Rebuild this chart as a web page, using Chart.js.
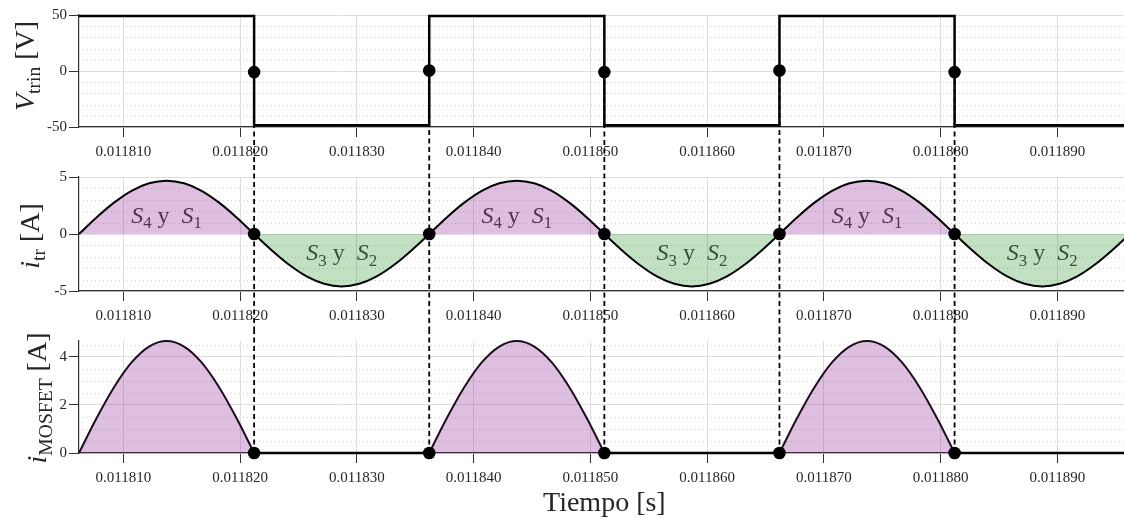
<!DOCTYPE html>
<html lang="es">
<head>
<meta charset="utf-8">
<title>Conmutación del inversor en puente completo</title>
<script src="https://cdn.jsdelivr.net/npm/chart.js@4.4.1/dist/chart.umd.min.js"></script>
<style>
  html, body { margin: 0; padding: 0; background: #fff; }
  body { width: 1124px; height: 518px; overflow: hidden; position: relative; }
  canvas { position: absolute; left: 0; }
</style>
</head>
<body>
<canvas id="panelV" width="1136" height="165" style="top:0px"></canvas>
<canvas id="panelI" width="1136" height="164" style="top:165px"></canvas>
<canvas id="panelM" width="1136" height="189" style="top:329px"></canvas>
<script>
// ---- Datos ----------------------------------------------------------------
// Instantes de muestreo (s), cada 1.5 µs
const tiempo = [
  0.0118062, 0.0118077, 0.0118092, 0.0118107, 0.0118122, 0.0118137, 0.0118152, 0.0118167, 0.0118182, 0.0118197,
  0.0118212, 0.0118227, 0.0118242, 0.0118257, 0.0118272, 0.0118287, 0.0118302, 0.0118317, 0.0118332, 0.0118347,
  0.0118362, 0.0118377, 0.0118392, 0.0118407, 0.0118422, 0.0118437, 0.0118452, 0.0118467, 0.0118482, 0.0118497,
  0.0118512, 0.0118527, 0.0118542, 0.0118557, 0.0118572, 0.0118587, 0.0118602, 0.0118617, 0.0118632, 0.0118647,
  0.0118662, 0.0118677, 0.0118692, 0.0118707, 0.0118722, 0.0118737, 0.0118752, 0.0118767, 0.0118782, 0.0118797,
  0.0118812, 0.0118827, 0.0118842, 0.0118857, 0.0118872, 0.0118887, 0.0118902, 0.0118917, 0.0118932, 0.0118947,
  0.0118962
];

// Corriente por el transformador (A)
const iTr = [
  0, 1.45, 2.75, 3.79, 4.45, 4.68, 4.45, 3.79, 2.75, 1.45,
  0, -1.42, -2.70, -3.72, -4.37, -4.60, -4.37, -3.72, -2.70, -1.42,
  0, 1.45, 2.75, 3.79, 4.45, 4.68, 4.45, 3.79, 2.75, 1.45,
  0, -1.42, -2.70, -3.72, -4.37, -4.60, -4.37, -3.72, -2.70, -1.42,
  0, 1.45, 2.75, 3.79, 4.45, 4.68, 4.45, 3.79, 2.75, 1.45,
  0, -1.42, -2.70, -3.72, -4.37, -4.60, -4.37, -3.72, -2.70, -1.42,
  0
];

// Corriente por el MOSFET (A)
const iMosfet = [
  0, 1.44, 2.73, 3.76, 4.42, 4.65, 4.42, 3.76, 2.73, 1.44,
  0, 0, 0, 0, 0, 0, 0, 0, 0, 0,
  0, 1.44, 2.73, 3.76, 4.42, 4.65, 4.42, 3.76, 2.73, 1.44,
  0, 0, 0, 0, 0, 0, 0, 0, 0, 0,
  0, 1.44, 2.73, 3.76, 4.42, 4.65, 4.42, 3.76, 2.73, 1.44,
  0, 0, 0, 0, 0, 0, 0, 0, 0, 0,
  0
];

// Tensión del puente (V): vértices de la onda cuadrada
const tTension = [0.0118062, 0.0118212, 0.0118212, 0.0118362, 0.0118362, 0.0118512,
                  0.0118512, 0.0118662, 0.0118662, 0.0118812, 0.0118812, 0.0118962];
const vTrin = [49, 49, -48.5, -48.5, 49, 49, -48.5, -48.5, 49, 49, -48.5, -48.5];

// Instantes de conmutación y valores en cada uno
const tConmutacion = [0.0118212, 0.0118362, 0.0118512, 0.0118662, 0.0118812];
const vConmutacion = [-1, 0.5, -1, 0.5, -1];
const iTrConmutacion = [0, 0, 0, 0, 0];
const iMosfetConmutacion = [0, 0, 0, 0, 0];

// Rango y marcas de los ejes
const tMin = 0.0118062;
const tMax = 0.0118962;
const ticksTiempo = [0.01181, 0.01182, 0.01183, 0.01184, 0.01185, 0.01186, 0.01187, 0.01188, 0.01189];
const ticksV = [-50, 0, 50];
const menoresV = [-40, -30, -20, -10, 10, 20, 30, 40];
const ticksI = [-5, 0, 5];
const menoresI = [-4, -3, -2, -1, 1, 2, 3, 4];
const ticksM = [0, 2, 4];
const menoresM = [0.5, 1, 1.5, 2.5, 3, 3.5, 4.5];

// Etiquetas de los interruptores que conducen en cada semiciclo
const tEtiquetas = [0.0118137, 0.0118287, 0.0118437, 0.0118587, 0.0118737, 0.0118887];
const yEtiquetas = [1.0, -2.3, 1.0, -2.3, 1.0, -2.3];
const parEtiquetas = [['4', '1'], ['3', '2'], ['4', '1'], ['3', '2'], ['4', '1'], ['3', '2']];

// ---- Estilo ---------------------------------------------------------------
const SERIF = "'Liberation Serif', 'DejaVu Serif', serif";
const TINTA = '#262626';
const EJE = '#333333';
const REJILLA = '#dedede';
const MORADO = 'rgba(128, 0, 128, 0.25)';
const VERDE = 'rgba(0, 128, 0, 0.24)';
const X_EJE_Y = 79;

function fuenteParte(p, tam) {
  return (p.it ? 'italic ' : '') + (p.sub ? tam * 0.7 : tam).toFixed(1) + 'px ' + SERIF;
}

// Texto con partes en cursiva y subíndices, centrado en x
function dibujarCompuesto(ctx, partes, x, y, tam) {
  let ancho = 0;
  partes.forEach(p => { ctx.font = fuenteParte(p, tam); ancho += ctx.measureText(p.t).width; });
  let cx = x - ancho / 2;
  ctx.textAlign = 'left';
  partes.forEach(p => {
    ctx.font = fuenteParte(p, tam);
    ctx.fillText(p.t, cx, y + (p.sub ? tam * 0.22 : 0));
    cx += ctx.measureText(p.t).width;
  });
}

// Título vertical del eje y
function tituloY(partes, xBase, dy) {
  return {
    id: 'tituloY',
    afterDraw(chart) {
      const { ctx, chartArea } = chart;
      ctx.save();
      ctx.translate(xBase, (chartArea.top + chartArea.bottom) / 2 + dy);
      ctx.rotate(-Math.PI / 2);
      ctx.fillStyle = TINTA;
      ctx.textBaseline = 'alphabetic';
      dibujarCompuesto(ctx, partes, 0, 0, 28);
      ctx.restore();
    }
  };
}

// Rejilla menor punteada
function rejillaMenor(valores) {
  return {
    id: 'rejillaMenor',
    beforeDatasetsDraw(chart) {
      const { ctx, chartArea, scales } = chart;
      ctx.save();
      ctx.strokeStyle = '#cfcfcf';
      ctx.lineWidth = 1;
      ctx.setLineDash([1, 3]);
      valores.forEach(v => {
        const py = Math.round(scales.y.getPixelForValue(v)) + 0.5;
        ctx.beginPath();
        ctx.moveTo(chartArea.left + 4, py);
        ctx.lineTo(chartArea.right, py);
        ctx.stroke();
      });
      ctx.restore();
    }
  };
}

// Líneas discontinuas en los instantes de conmutación
function lineasConmutacion(valores, desdeBorde, hastaBorde) {
  return {
    id: 'lineasConmutacion',
    afterDatasetsDraw(chart) {
      const { ctx, scales } = chart;
      ctx.save();
      ctx.strokeStyle = '#000';
      ctx.lineWidth = 1.8;
      ctx.setLineDash([5, 3.5]);
      tConmutacion.forEach((t, i) => {
        const px = scales.x.getPixelForValue(t);
        const y0 = desdeBorde ? 0 : scales.y.getPixelForValue(valores[i]);
        const y1 = hastaBorde ? chart.height : scales.y.getPixelForValue(valores[i]);
        ctx.beginPath();
        ctx.moveTo(px, y0);
        ctx.lineTo(px, y1);
        ctx.stroke();
      });
      ctx.restore();
    }
  };
}

// Etiquetas S_a y S_b dentro de las áreas
const etiquetasInterruptores = {
  id: 'etiquetasInterruptores',
  beforeDatasetsDraw(chart) {
    const { ctx, scales } = chart;
    ctx.save();
    ctx.fillStyle = '#444';
    ctx.textBaseline = 'alphabetic';
    tEtiquetas.forEach((t, i) => {
      const partes = [
        { t: 'S', it: true }, { t: parEtiquetas[i][0], sub: true },
        { t: ' y\u2002' },
        { t: 'S', it: true }, { t: parEtiquetas[i][1], sub: true }
      ];
      dibujarCompuesto(ctx, partes, scales.x.getPixelForValue(t), scales.y.getPixelForValue(yEtiquetas[i]), 24);
    });
    ctx.restore();
  }
};

function puntos(arr, tArr) { return tArr.map((t, i) => ({ x: t, y: arr[i] })); }

function ejeX(alto, conTitulo) {
  return {
    type: 'linear',
    min: tMin,
    max: tMax,
    afterBuildTicks(s) { s.ticks = ticksTiempo.map(v => ({ value: v })); },
    afterFit(s) { s.height = alto; },
    ticks: {
      callback: v => Number(v).toFixed(6),
      font: { family: SERIF, size: 15 },
      color: TINTA,
      padding: 6,
      autoSkip: false,
      maxRotation: 0,
      minRotation: 0
    },
    grid: { color: REJILLA, lineWidth: 1, tickColor: EJE, tickLength: 10, tickWidth: 1 },
    border: { display: true, color: EJE, width: 1.2 },
    title: {
      display: conTitulo,
      text: 'Tiempo [s]',
      font: { family: SERIF, size: 28, lineHeight: 1.0 },
      color: TINTA,
      padding: { top: 0, bottom: 0 }
    }
  };
}

function ejeY(min, max, ticks) {
  return {
    min: min,
    max: max,
    afterBuildTicks(s) { s.ticks = ticks.map(v => ({ value: v })); },
    afterFit(s) { s.width = X_EJE_Y; },
    ticks: { font: { family: SERIF, size: 15 }, color: TINTA, padding: 2 },
    grid: { color: REJILLA, lineWidth: 1, tickColor: EJE, tickLength: 10, tickWidth: 1 },
    border: { display: true, color: EJE, width: 1.2 }
  };
}

function opcionesBase(padTop, altoX, conTitulo, yMin, yMax, yTicks) {
  return {
    responsive: false,
    animation: false,
    devicePixelRatio: 1,
    events: [],
    layout: { padding: { top: padTop, right: 3, left: 0, bottom: 0 } },
    plugins: { legend: { display: false }, tooltip: { enabled: false } },
    elements: { point: { radius: 0 } },
    scales: { x: ejeX(altoX, conTitulo), y: ejeY(yMin, yMax, yTicks) }
  };
}

const puntoNegro = {
  type: 'line', showLine: false, order: 0, clip: false,
  pointRadius: 6.3, pointBackgroundColor: '#000', pointBorderWidth: 0
};

// ---- Panel 1: tensión -----------------------------------------------------
new Chart(document.getElementById('panelV'), {
  type: 'line',
  data: {
    datasets: [
      Object.assign({ data: puntos(vConmutacion, tConmutacion) }, puntoNegro),
      {
        data: puntos(vTrin, tTension), order: 1, clip: false,
        borderColor: '#000', borderWidth: 2.5, tension: 0, fill: false
      }
    ]
  },
  options: opcionesBase(15, 38, false, -50, 50, ticksV),
  plugins: [
    rejillaMenor(menoresV),
    lineasConmutacion(vConmutacion, false, true),
    tituloY([{ t: 'V', it: true }, { t: 'trin', sub: true }, { t: ' [V]' }], 34, -5)
  ]
});

// ---- Panel 2: corriente del transformador --------------------------------
new Chart(document.getElementById('panelI'), {
  type: 'line',
  data: {
    datasets: [
      Object.assign({ data: puntos(iTrConmutacion, tConmutacion) }, puntoNegro),
      {
        data: puntos(iTr, tiempo), order: 1, clip: false,
        borderColor: '#000', borderWidth: 2, cubicInterpolationMode: 'monotone',
        fill: { target: { value: 0 }, above: MORADO, below: VERDE }
      }
    ]
  },
  options: opcionesBase(12, 38, false, -5, 5, ticksI),
  plugins: [
    rejillaMenor(menoresI),
    etiquetasInterruptores,
    lineasConmutacion(iTrConmutacion, true, true),
    tituloY([{ t: 'i', it: true }, { t: 'tr', sub: true }, { t: ' [A]' }], 39, 2)
  ]
});

// ---- Panel 3: corriente del MOSFET ---------------------------------------
const mosfetPulsos = iMosfet.map((v, i) => (v > 0 || iMosfet[i - 1] > 0 || iMosfet[i + 1] > 0) ? v : null);
const mosfetApagado = iMosfet.map(v => (v === 0 ? v : null));

new Chart(document.getElementById('panelM'), {
  type: 'line',
  data: {
    datasets: [
      Object.assign({ data: puntos(iMosfetConmutacion, tConmutacion) }, puntoNegro),
      {
        data: puntos(mosfetPulsos, tiempo), order: 1, clip: false, spanGaps: false,
        borderColor: '#1c0d1f', borderWidth: 2, cubicInterpolationMode: 'monotone',
        fill: { target: 'origin', above: MORADO }, backgroundColor: MORADO
      },
      {
        data: puntos(mosfetApagado, tiempo), order: 1, clip: false, spanGaps: false,
        borderColor: '#000', borderWidth: 2.5, tension: 0, fill: false
      }
    ]
  },
  options: opcionesBase(12, 65, true, 0, 4.65, ticksM),
  plugins: [
    rejillaMenor(menoresM),
    lineasConmutacion(iMosfetConmutacion, true, false),
    tituloY([{ t: 'i', it: true }, { t: 'MOSFET', sub: true }, { t: ' [A]' }], 46, 1)
  ]
});
</script>
</body>
</html>
